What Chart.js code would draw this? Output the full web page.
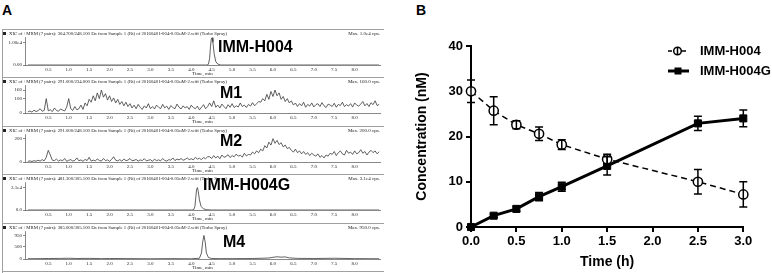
<!DOCTYPE html>
<html>
<head>
<meta charset="utf-8">
<script src="https://cdn.jsdelivr.net/npm/chart.js@4"></script>
<style>
  html, body { margin: 0; padding: 0; background: #fff; }
  #wrap { position: relative; width: 772px; height: 273px; overflow: hidden; }
  .tag { position: absolute; font: bold 14px 'Liberation Sans', Arial, sans-serif; line-height: 14px; color: #000; }
  canvas { position: absolute; }
</style>
</head>
<body>
<div id="wrap">
  <div class="tag" style="left:2px; top:3px;">A</div>
  <div class="tag" style="left:416px; top:3px;">B</div>
  <canvas id="trace-h004" width="386" height="48" style="left:0; top:29px;"></canvas>
  <canvas id="trace-m1" width="386" height="49" style="left:0; top:77px;"></canvas>
  <canvas id="trace-m2" width="386" height="48" style="left:0; top:126px;"></canvas>
  <canvas id="trace-h004g" width="386" height="49" style="left:0; top:174px;"></canvas>
  <canvas id="trace-m4" width="386" height="50" style="left:0; top:223px;"></canvas>
  <canvas id="chart-b" width="372" height="273" style="left:400px; top:0;"></canvas>
</div>
<script>
// ---- Panel A: XIC traces (time in min, intensity in cps) ----
const scanTicks = [0.5, 1.0, 1.5, 2.0, 2.5, 3.0, 3.5, 4.0, 4.5, 5.0, 5.5, 6.0, 6.5, 7.0, 7.5, 8.0];

// dense scan grid used by the noisy M1 / M2 traces
const scanTimes = [
    0, 0.05, 0.1, 0.15, 0.2, 0.25, 0.3, 0.35, 0.4, 0.45,
    0.5, 0.55, 0.6, 0.65, 0.7, 0.75, 0.8, 0.85, 0.9, 0.95,
    1.0, 1.05, 1.1, 1.15, 1.2, 1.25, 1.3, 1.35, 1.4, 1.45,
    1.5, 1.55, 1.6, 1.65, 1.7, 1.75, 1.8, 1.85, 1.9, 1.95,
    2.0, 2.05, 2.1, 2.15, 2.2, 2.25, 2.3, 2.35, 2.4, 2.45,
    2.5, 2.55, 2.6, 2.65, 2.7, 2.75, 2.8, 2.85, 2.9, 2.95,
    3.0, 3.05, 3.1, 3.15, 3.2, 3.25, 3.3, 3.35, 3.4, 3.45,
    3.5, 3.55, 3.6, 3.65, 3.7, 3.75, 3.8, 3.85, 3.9, 3.95,
    4.0, 4.05, 4.1, 4.15, 4.2, 4.25, 4.3, 4.35, 4.4, 4.45,
    4.5, 4.55, 4.6, 4.65, 4.7, 4.75, 4.8, 4.85, 4.9, 4.95,
    5.0, 5.05, 5.1, 5.15, 5.2, 5.25, 5.3, 5.35, 5.4, 5.45,
    5.5, 5.55, 5.6, 5.65, 5.7, 5.75, 5.8, 5.85, 5.9, 5.95,
    6.0, 6.05, 6.1, 6.15, 6.2, 6.25, 6.3, 6.35, 6.4, 6.45,
    6.5, 6.55, 6.6, 6.65, 6.7, 6.75, 6.8, 6.85, 6.9, 6.95,
    7.0, 7.05, 7.1, 7.15, 7.2, 7.25, 7.3, 7.35, 7.4, 7.45,
    7.5, 7.55, 7.6, 7.65, 7.7, 7.75, 7.8, 7.85, 7.9, 7.95,
    8.0, 8.05, 8.1, 8.15, 8.2, 8.25, 8.3, 8.35, 8.4, 8.45,
    8.5, 8.55, 8.6
];

const m1Values = [
    8, 14, 6, 20, 10, 16, 30, 12, 18, 100,
    15, 22, 10, 35, 18, 12, 28, 20, 14, 40,
    100, 30, 18, 45, 22, 30, 55, 25, 70, 50,
    95, 75, 120, 85, 140, 100, 160, 110, 135, 90,
    120, 80, 105, 70, 95, 60, 80, 50, 75, 45,
    65, 35, 55, 30, 60, 40, 25, 50, 35, 65,
    30, 45, 28, 55, 40, 30, 60, 35, 48, 25,
    52, 38, 30, 62, 40, 28, 50, 35, 45, 25,
    55, 38, 30, 48, 22, 40, 58, 30, 45, 70,
    45, 85, 40, 55, 35, 62, 45, 30, 58, 40,
    65, 38, 50, 42, 70, 45, 55, 38, 60, 48,
    72, 50, 65, 80, 75, 100, 85, 130, 95, 150,
    115, 160, 120, 140, 95, 115, 80, 100, 70, 85,
    55, 70, 45, 65, 50, 75, 40, 60, 48, 70,
    42, 58, 65, 45, 72, 50, 38, 62, 55, 45,
    68, 40, 60, 52, 75, 45, 58, 48, 65, 42,
    70, 55, 48, 62, 80, 50, 66, 45, 72, 58,
    85, 52, 60
];

const m2Values = [
    5, 10, 4, 12, 6, 15, 8, 20, 10, 40,
    100, 60, 15, 12, 25, 8, 18, 10, 30, 6,
    15, 20, 8, 14, 35, 10, 18, 6, 22, 12,
    40, 8, 16, 10, 25, 14, 8, 30, 12, 18,
    6, 22, 45, 15, 10, 20, 8, 25, 12, 16,
    30, 10, 14, 22, 8, 18, 12, 28, 10, 15,
    20, 6, 24, 12, 18, 10, 30, 14, 8, 20,
    16, 35, 12, 25, 18, 30, 15, 22, 35, 20,
    28, 18, 40, 25, 32, 20, 38, 28, 45, 45,
    30, 55, 35, 50, 28, 60, 40, 48, 62, 38,
    55, 45, 68, 50, 58, 42, 75, 52, 65, 60,
    85, 70, 95, 80, 110, 95, 140, 120, 170, 145,
    200, 160, 185, 150, 165, 130, 145, 115, 125, 100,
    85, 110, 80, 95, 70, 90, 65, 80, 55, 75,
    60, 50, 70, 40, 55, 35, 60, 50, 75, 65,
    90, 55, 80, 95, 70, 60, 100, 75, 85, 65,
    95, 70, 80, 105, 75, 90, 60, 85, 100, 80,
    95, 70, 88
];

// sharp single-peak traces
const h004Times = [0, 4.38, 4.42, 4.45, 4.47, 4.49, 4.51, 4.53, 4.56, 4.6, 4.65, 4.72, 8.6];
const h004Values = [0, 0, 300, 3000, 8000, 11500, 12000, 10000, 5000, 1500, 400, 0, 0];

const h004gTimes = [0, 4.0, 4.06, 4.09, 4.11, 4.13, 4.15, 4.17, 4.2, 4.24, 4.3, 4.38, 4.5, 8.6];
const h004gValues = [0, 0, 400, 5000, 17000, 28000, 31000, 26000, 14000, 5000, 1500, 400, 0, 0];

const m4Times = [0, 0.3, 0.5, 0.8, 1.0, 1.2, 1.5, 1.8, 2.0, 2.5, 3.0, 3.5, 4.0, 4.2, 4.25, 4.28, 4.31,
    4.34, 4.37, 4.42, 4.5, 4.7, 5.0, 5.5, 5.9, 6.0, 6.1, 6.2, 6.3, 6.4, 6.6, 7.0, 7.5, 8.0, 8.6];
const m4Values = [10, 15, 20, 25, 30, 20, 25, 15, 20, 15, 10, 15, 10, 30, 250, 700, 960,
    700, 250, 60, 20, 15, 15, 20, 40, 70, 90, 75, 85, 45, 25, 20, 30, 15, 10];

// y-axis ticks of each trace
const h004Ticks = [0, 10000];
const h004TickLabels = ['0.00', '1.00e4'];
const m1Ticks = [0, 100, 160];
const m1TickLabels = ['0', '100', '160'];
const m2Ticks = [0, 200];
const m2TickLabels = ['0', '200'];
const h004gTicks = [0, 31000];
const h004gTickLabels = ['0.0', '3.1e4'];
const m4Ticks = [0, 500, 950];
const m4TickLabels = ['0', '500', '950'];

// ---- Panel B: concentration vs time ----
const timePoints = [0, 0.25, 0.5, 0.75, 1.0, 1.5, 2.5, 3.0];
const h004Mean = [30.0, 25.7, 22.6, 20.6, 18.2, 15.0, 10.0, 7.2];
const h004Sd = [2.5, 3.1, 0.9, 1.5, 1.1, 1.1, 2.7, 2.8];
const h004gMean = [0, 2.5, 4.0, 6.7, 8.9, 13.5, 22.9, 24.0];
const h004gSd = [0, 0.4, 0.55, 0.9, 1.0, 2.0, 1.6, 1.85];
const timeTicks = [0, 0.5, 1.0, 1.5, 2.0, 2.5, 3.0];
const concTicks = [0, 10, 20, 30, 40];

const headerPlugin = {
    id: 'traceHeader',
    afterDraw(chart, args, opts) {
        const ctx = chart.ctx;
        ctx.save();
        ctx.strokeStyle = '#a0a0a0';
        ctx.lineWidth = 1;
        ctx.beginPath();
        ctx.moveTo(3, 0.5);
        ctx.lineTo(384, 0.5);
        ctx.moveTo(2.5, 0);
        ctx.lineTo(2.5, chart.height);
        if (opts.bottomRule) {
            ctx.moveTo(3, chart.height - 1.5);
            ctx.lineTo(384, chart.height - 1.5);
        }
        ctx.stroke();

        ctx.fillStyle = '#222';
        ctx.fillRect(3, 3, 3, 3);
        ctx.font = '5px "Liberation Serif"';
        ctx.textBaseline = 'middle';
        ctx.textAlign = 'left';
        ctx.fillText(opts.header, 9, 5, 218);
        ctx.textAlign = 'right';
        ctx.fillText(opts.maxText, 380, 5);

        ctx.fillStyle = '#000';
        ctx.textAlign = 'left';
        ctx.font = 'bold 16px "Liberation Sans"';
        ctx.fillText(opts.label, opts.labelX, opts.labelY);
        ctx.restore();
    }
};

const smallFont = { family: 'Liberation Serif', size: 5 };

function renderTrace(canvasId, times, values, ticks, tickLabels, yMax, header) {
    const points = times.map((t, i) => ({ x: t, y: values[i] }));
    return new Chart(document.getElementById(canvasId), {
        type: 'line',
        data: {
            datasets: [{
                data: points,
                borderColor: '#3a3a3a',
                borderWidth: 0.8,
                pointRadius: 0,
                tension: 0,
            }],
        },
        options: {
            responsive: false,
            animation: false,
            layout: { padding: { top: 8, right: 6, bottom: 0, left: 0 } },
            plugins: {
                legend: { display: false },
                tooltip: { enabled: false },
                traceHeader: header,
            },
            scales: {
                x: {
                    type: 'linear',
                    min: -0.07,
                    max: 8.62,
                    afterBuildTicks: s => { s.ticks = scanTicks.map(v => ({ value: v })); },
                    afterFit: s => { s.height = header.axisHeight; },
                    grid: { display: false, drawTicks: false },
                    border: { display: true, color: '#555', width: 0.7 },
                    ticks: {
                        font: smallFont,
                        color: '#222',
                        padding: 1.5,
                        maxRotation: 0,
                        autoSkip: false,
                        callback: v => v.toFixed(1),
                    },
                    title: {
                        display: true,
                        text: 'Time, min',
                        font: smallFont,
                        color: '#222',
                        padding: { top: 0, bottom: header.titlePad },
                    },
                },
                y: {
                    min: 0,
                    max: yMax,
                    afterBuildTicks: s => { s.ticks = ticks.map(v => ({ value: v })); },
                    afterFit: s => { s.width = 25; },
                    grid: { drawOnChartArea: false, tickLength: 2, color: '#555', lineWidth: 0.7 },
                    border: { display: true, color: '#555', width: 0.7 },
                    ticks: {
                        font: smallFont,
                        color: '#222',
                        padding: 1,
                        callback: (v, i) => tickLabels[i],
                    },
                },
            },
        },
        plugins: [headerPlugin],
    });
}

renderTrace('trace-h004', h004Times, h004Values, h004Ticks, h004TickLabels, 12330, {
    header: 'XIC of +MRM (7 pairs): 304.700/248.100 Da from Sample 1 (Rt) of 20160401-004-0.05uM-2.wiff (Turbo Spray)',
    maxText: 'Max. 1.0e4 cps.', label: 'IMM-H004', labelX: 218, labelY: 19,
    axisHeight: 12, titlePad: 0,
});
renderTrace('trace-m1', scanTimes, m1Values, m1Ticks, m1TickLabels, 195, {
    header: 'XIC of +MRM (7 pairs): 291.000/234.000 Da from Sample 1 (Rt) of 20160401-004-0.05uM-2.wiff (Turbo Spray)',
    maxText: 'Max. 160.0 cps.', label: 'M1', labelX: 220, labelY: 17,
    axisHeight: 13, titlePad: 1,
});
renderTrace('trace-m2', scanTimes, m2Values, m2Ticks, m2TickLabels, 240, {
    header: 'XIC of +MRM (7 pairs): 291.000/248.100 Da from Sample 1 (Rt) of 20160401-004-0.05uM-2.wiff (Turbo Spray)',
    maxText: 'Max. 200.0 cps.', label: 'M2', labelX: 220, labelY: 16,
    axisHeight: 12, titlePad: 0,
});
renderTrace('trace-h004g', h004gTimes, h004gValues, h004gTicks, h004gTickLabels, 38750, {
    header: 'XIC of +MRM (7 pairs): 481.300/305.100 Da from Sample 1 (Rt) of 20160401-004-0.05uM-2.wiff (Turbo Spray)',
    maxText: 'Max. 3.1e4 cps.', label: 'IMM-H004G', labelX: 203, labelY: 12,
    axisHeight: 13, titlePad: 1,
});
renderTrace('trace-m4', m4Times, m4Values, m4Ticks, m4TickLabels, 1143, {
    header: 'XIC of +MRM (7 pairs): 385.000/305.100 Da from Sample 1 (Rt) of 20160401-004-0.05uM-2.wiff (Turbo Spray)',
    maxText: 'Max. 950.0 cps.', label: 'M4', labelX: 223, labelY: 20,
    axisHeight: 14, titlePad: 2, bottomRule: true,
});

// ---- Panel B ----
const errorSets = [h004Sd, h004gSd];

const errorBarPlugin = {
    id: 'errorBars',
    afterDatasetsDraw(chart) {
        const { ctx, scales: { x, y } } = chart;
        ctx.save();
        ctx.strokeStyle = '#000';
        ctx.lineWidth = 1.5;
        chart.data.datasets.forEach((ds, di) => {
            ds.data.forEach((pt, i) => {
                const err = errorSets[di][i];
                if (!err) return;
                const px = x.getPixelForValue(pt.x);
                const top = y.getPixelForValue(pt.y + err);
                const bot = y.getPixelForValue(pt.y - err);
                ctx.beginPath();
                ctx.moveTo(px, top); ctx.lineTo(px, bot);
                ctx.moveTo(px - 4, top); ctx.lineTo(px + 4, top);
                ctx.moveTo(px - 4, bot); ctx.lineTo(px + 4, bot);
                ctx.stroke();
            });
        });
        ctx.restore();
    }
};

const legendPlugin = {
    id: 'prismLegend',
    afterDraw(chart) {
        const ctx = chart.ctx;
        ctx.save();
        ctx.strokeStyle = '#000';
        ctx.fillStyle = '#000';
        // IMM-H004 row
        ctx.lineWidth = 1.5;
        ctx.setLineDash([4, 3]);
        ctx.beginPath();
        ctx.moveTo(268, 51); ctx.lineTo(289, 51);
        ctx.stroke();
        ctx.setLineDash([]);
        ctx.beginPath();
        ctx.arc(277.5, 51, 3.8, 0, Math.PI * 2);
        ctx.fillStyle = '#fff';
        ctx.fill();
        ctx.stroke();
        ctx.beginPath();
        ctx.moveTo(277.5, 47); ctx.lineTo(277.5, 55);
        ctx.stroke();
        // IMM-H004G row
        ctx.lineWidth = 3;
        ctx.beginPath();
        ctx.moveTo(268, 71); ctx.lineTo(289, 71);
        ctx.stroke();
        ctx.fillStyle = '#000';
        ctx.fillRect(274.5, 67.5, 7, 7);

        ctx.font = 'bold 13px "Liberation Sans"';
        ctx.textBaseline = 'middle';
        ctx.textAlign = 'left';
        ctx.fillText('IMM-H004', 300, 51);
        ctx.fillText('IMM-H004G', 300, 71);
        ctx.restore();
    }
};

const axisFont = { family: 'Liberation Sans', size: 13, weight: 'bold' };
const titleFont = { family: 'Liberation Sans', size: 14, weight: 'bold' };

new Chart(document.getElementById('chart-b'), {
    type: 'line',
    data: {
        datasets: [{
            label: 'IMM-H004',
            data: timePoints.map((t, i) => ({ x: t, y: h004Mean[i] })),
            borderColor: '#000',
            borderWidth: 1.5,
            borderDash: [6, 4],
            pointStyle: 'circle',
            pointRadius: 4.6,
            pointBorderWidth: 1.5,
            pointBorderColor: '#000',
            pointBackgroundColor: '#fff',
            tension: 0,
            clip: false,
        }, {
            label: 'IMM-H004G',
            data: timePoints.map((t, i) => ({ x: t, y: h004gMean[i] })),
            borderColor: '#000',
            borderWidth: 3,
            pointStyle: 'rect',
            pointRadius: 5,
            pointBorderWidth: 1,
            pointBorderColor: '#000',
            pointBackgroundColor: '#000',
            tension: 0,
            clip: false,
        }],
    },
    options: {
        responsive: false,
        animation: false,
        layout: { padding: { top: 46, right: 28.7, bottom: 0, left: 0 } },
        plugins: {
            legend: { display: false },
            tooltip: { enabled: false },
        },
        scales: {
            x: {
                type: 'linear',
                min: 0,
                max: 3,
                afterBuildTicks: s => { s.ticks = timeTicks.map(v => ({ value: v })); },
                afterFit: s => { s.height = 46; },
                grid: { drawOnChartArea: false, tickLength: 5, color: '#000', lineWidth: 2 },
                border: { display: true, color: '#000', width: 2 },
                ticks: { font: axisFont, color: '#000', padding: 2, maxRotation: 0, callback: v => v.toFixed(1) },
                title: { display: true, text: 'Time (h)', font: titleFont, color: '#000', padding: { top: 0, bottom: 2.6 } },
            },
            y: {
                min: 0,
                max: 40,
                afterBuildTicks: s => { s.ticks = concTicks.map(v => ({ value: v })); },
                afterFit: s => { s.width = 71; },
                grid: { drawOnChartArea: false, tickLength: 5, color: '#000', lineWidth: 2 },
                border: { display: true, color: '#000', width: 2 },
                ticks: { font: axisFont, color: '#000', padding: 3 },
                title: { display: true, text: 'Concentration (nM)', font: titleFont, color: '#000', padding: { top: 13.6, bottom: 0 } },
            },
        },
    },
    plugins: [errorBarPlugin, legendPlugin],
});
</script>
</body>
</html>
